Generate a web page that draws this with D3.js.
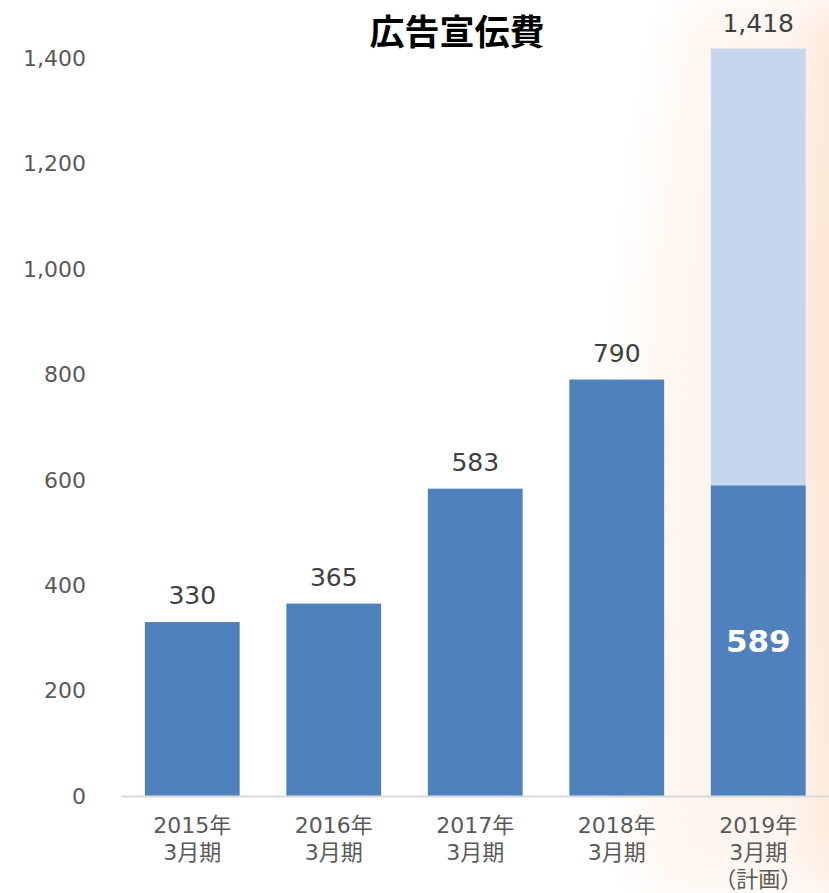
<!DOCTYPE html>
<html><head><meta charset="utf-8">
<script src="https://cdn.jsdelivr.net/npm/d3@7"></script>
<style>html,body{margin:0;padding:0;background:#fff;}svg{display:block;}</style>
</head><body>
<svg id="chart" width="829" height="893"></svg>
<script>
// 広告宣伝費 (百万円)
const categories = ["2015年\n3月期", "2016年\n3月期", "2017年\n3月期", "2018年\n3月期", "2019年\n3月期\n（計画）"];
const actualValues = [330, 365, 583, 790, 589];
const planTotals = [null, null, null, null, 1418];
const yTicks = [0, 200, 400, 600, 800, 1000, 1200, 1400];
const title = "広告宣伝費";

const svg = d3.select("#chart");
const font = "'DejaVu Sans', 'Noto Sans CJK JP', sans-serif";
const titleFont = "'Noto Sans CJK JP', sans-serif";

// soft warm backdrop on the right
const defs = svg.append("defs");
const f = defs.append("filter").attr("id", "soft").attr("x", "-50%").attr("y", "-50%").attr("width", "200%").attr("height", "200%");
f.append("feGaussianBlur").attr("stdDeviation", 25);
const bg = svg.append("g").attr("filter", "url(#soft)");
bg.append("path")
  .attr("d", "M690,0 C650,200 620,500 650,893 L829,893 L829,0 Z")
  .attr("fill", "#fef5ee");
bg.append("path")
  .attr("d", "M820,0 C800,250 790,500 830,893 L880,893 L880,0 Z")
  .attr("fill", "#fde4d2");

const x = d3.scaleBand().domain(categories).range([121.5, 829]).paddingInner(0.33).paddingOuter(0.165);
const y = d3.scaleLinear().domain([0, 1400]).range([796, 58]);

// y axis labels
svg.append("g").selectAll("text").data(yTicks).join("text")
  .attr("x", 86).attr("y", d => y(d)).attr("dy", "0.36em")
  .attr("text-anchor", "end")
  .attr("font-family", font).attr("font-size", 22).attr("fill", "#595959")
  .text(d => d3.format(",")(d));

// planned total (light) behind actuals
const planData = categories.map((c, i) => ({c, v: planTotals[i]})).filter(d => d.v != null);
svg.append("g").selectAll("rect").data(planData).join("rect")
  .attr("x", d => x(d.c)).attr("width", x.bandwidth())
  .attr("y", d => y(d.v)).attr("height", d => y(0) - y(d.v))
  .attr("fill", "#c5d7ef");

// actual bars
const actData = categories.map((c, i) => ({c, v: actualValues[i], plan: planTotals[i] != null}));
svg.append("g").selectAll("rect").data(actData).join("rect")
  .attr("x", d => x(d.c)).attr("width", x.bandwidth())
  .attr("y", d => y(d.v)).attr("height", d => y(0) - y(d.v))
  .attr("fill", "#4f81bd");

// x axis line
svg.append("line").attr("x1", 121.5).attr("x2", 829).attr("y1", y(0) + 0.5).attr("y2", y(0) + 0.5)
  .attr("stroke", "#d9d9d9").attr("stroke-width", 2);

// value labels above bars
svg.append("g").selectAll("text").data(actData.filter(d => !d.plan)).join("text")
  .attr("x", d => x(d.c) + x.bandwidth() / 2).attr("y", d => y(d.v) - 18)
  .attr("text-anchor", "middle")
  .attr("font-family", font).attr("font-size", 25).attr("fill", "#404040")
  .text(d => d3.format(",")(d.v));

svg.append("g").selectAll("text").data(planData).join("text")
  .attr("x", d => x(d.c) + x.bandwidth() / 2).attr("y", d => y(d.v) - 17)
  .attr("text-anchor", "middle")
  .attr("font-family", font).attr("font-size", 25).attr("fill", "#404040")
  .text(d => d3.format(",")(d.v));

// actual value inside the planned bar
svg.append("g").selectAll("text").data(actData.filter(d => d.plan)).join("text")
  .attr("x", d => x(d.c) + x.bandwidth() / 2).attr("y", 652)
  .attr("text-anchor", "middle")
  .attr("font-family", font).attr("font-size", 31).attr("font-weight", "bold").attr("fill", "#ffffff")
  .text(d => d3.format(",")(d.v));

// category labels
const cat = svg.append("g").selectAll("text").data(categories).join("text")
  .attr("x", d => x(d) + x.bandwidth() / 2).attr("y", 833)
  .attr("text-anchor", "middle")
  .attr("font-family", font).attr("font-size", 22).attr("fill", "#595959");
cat.each(function(d) {
  const t = d3.select(this);
  d.split("\n").forEach((line, i) => {
    t.append("tspan").attr("x", x(d) + x.bandwidth() / 2).attr("dy", i === 0 ? 0 : 27).text(line);
  });
});

// title
svg.append("text").attr("x", 457).attr("y", 45).attr("text-anchor", "middle")
  .attr("font-family", titleFont).attr("font-size", 35).attr("font-weight", "bold").attr("fill", "#000")
  .text(title);
</script>
</body></html>
